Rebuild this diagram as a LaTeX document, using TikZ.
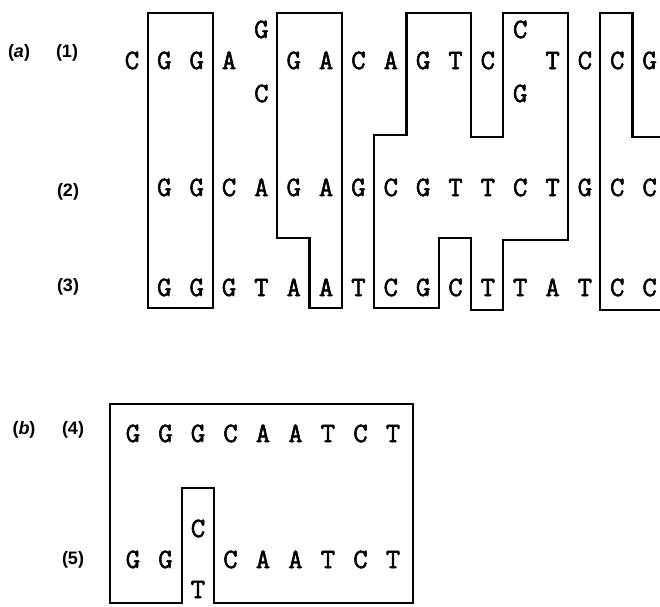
\documentclass[tikz,border=0pt]{standalone}
\usepackage{fontspec}
\setmainfont{Liberation Sans}
\newfontfamily\seqfont{Latin Modern Mono}[FakeBold=2]
\tikzset{
	lettre/.style={font=\seqfont\fontsize{28}{28}\selectfont, inner sep=0pt, anchor=base},
	repere/.style={font=\bfseries\fontsize{18}{18}\selectfont, inner sep=0pt},
	cadre/.style={line width=2.2pt, line join=miter}
}
\begin{document}
\begin{tikzpicture}[x=1pt, y=-1pt]
	\useasboundingbox (0, 0) rectangle (660, 606);
	% Repères
	\node[repere] (ra) at (19, 53) {(\textit{a})};
	\node[repere] (r1) at (67, 53) {(1)};
	\node[repere] (r2) at (68, 192) {(2)};
	\node[repere] (r3) at (68, 287) {(3)};
	\node[repere] (rb) at (24, 430) {(\textit{b})};
	\node[repere] (r4) at (73, 430) {(4)};
	\node[repere] (r5) at (73, 560) {(5)};
	% Séquences (a)
	\foreach \k/\l in {0/C,1/G,2/G,3/A,5/G,6/A,7/C,8/A,9/G,10/T,11/C,13/T,14/C,15/C,16/G}
		\node[lettre] (s1-\k) at ({132+32.35*\k}, 69) {\l};
	\node[lettre] (s1-4h) at (261.4, 38) {G};
	\node[lettre] (s1-4b) at (261.4, 102) {C};
	\node[lettre] (s1-12h) at (520.2, 38) {C};
	\node[lettre] (s1-12b) at (520.2, 102) {G};
	\foreach \l [count=\k] in {G,G,C,A,G,A,G,C,G,T,T,C,T,G,C,C}
		\node[lettre] (s2-\k) at ({132+32.35*\k}, 196) {\l};
	\foreach \l [count=\k] in {G,G,G,T,A,A,T,C,G,C,T,T,A,T,C,C}
		\node[lettre] (s3-\k) at ({132+32.35*\k}, 296) {\l};
	% Cadres (a)
	\draw[cadre] (148, 13) rectangle (212.6, 308);
	\draw[cadre] (277.2, 13) -| (341.8, 308) -| (309.5, 238) -| (277.2, 13) -- cycle;
	\draw[cadre] (406.4, 13) -| (471, 137) -| (503.3, 13) -| (568, 240) -| (503.3, 310) -| (471, 238) -| (438.7, 308) -| (374.1, 135) -| (406.4, 13) -- cycle;
	\draw[cadre] (664, 137) -| (632.5, 13) -| (600.2, 310) -- (664, 310);
	% Séquences (b)
	\foreach \l [count=\k from 0] in {G,G,G,C,A,A,T,C,T}
		\node[lettre] (s4-\k) at ({133+32.5*\k}, 442) {\l};
	\foreach \k/\l in {0/G,1/G,3/C,4/A,5/A,6/T,7/C,8/T}
		\node[lettre] (s5-\k) at ({133+32.5*\k}, 568) {\l};
	\node[lettre] (s5-2h) at (198, 537) {C};
	\node[lettre] (s5-2b) at (198, 598) {T};
	% Cadre (b)
	\draw[cadre] (110, 404) -| (413, 603) -| (214, 488) -| (182, 603) -| (110, 404) -- cycle;
\end{tikzpicture}
\end{document}
